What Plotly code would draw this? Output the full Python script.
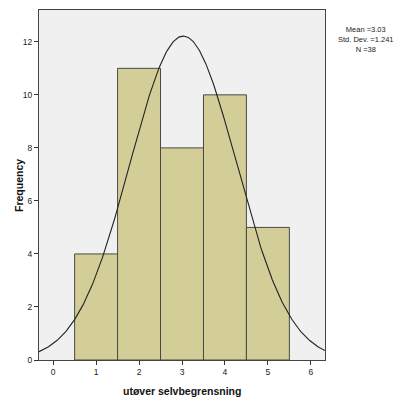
import numpy as np
import plotly.graph_objects as go

# Histogram of responses
categories = [1, 2, 3, 4, 5]
counts = [4, 11, 8, 10, 5]

# Summary statistics shown beside the plot
mean_val = 3.03
std_dev = 1.241
n_obs = 38
bin_width = 1.0

x_ticks = [0, 1, 2, 3, 4, 5, 6]
y_ticks = [0, 2, 4, 6, 8, 10, 12]

# Normal curve scaled to frequency units
xc = np.linspace(-0.33, 6.33, 300)
yc = n_obs * bin_width * np.exp(-0.5 * ((xc - mean_val) / std_dev) ** 2) / (std_dev * np.sqrt(2 * np.pi))

fig = go.Figure()
fig.add_trace(go.Bar(
    x=categories, y=counts, width=bin_width,
    marker=dict(color="#D3CE98", line=dict(color="#4A4A44", width=1)),
    hoverinfo="skip",
))
fig.add_trace(go.Scatter(
    x=xc, y=yc, mode="lines",
    line=dict(color="#222222", width=1.1), hoverinfo="skip",
))

font_family = "Liberation Sans, Arial, sans-serif"

fig.update_layout(
    width=405, height=401,
    margin=dict(l=39, r=80, t=10, b=41),
    paper_bgcolor="white",
    plot_bgcolor="#F0F0F0",
    showlegend=False,
    font=dict(family=font_family, size=8, color="#222222"),
    xaxis=dict(
        range=[-0.33, 6.33], tickvals=x_ticks, ticks="outside", ticklen=4,
        tickwidth=1, tickcolor="#333333", showgrid=False, zeroline=False,
        showline=True, linecolor="#444444", linewidth=1.2, mirror=True,
        tickfont=dict(size=8.5),
    ),
    yaxis=dict(
        range=[0, 13.2], tickvals=y_ticks, ticks="outside", ticklen=4,
        tickwidth=1, tickcolor="#333333", showgrid=False, zeroline=False,
        showline=True, linecolor="#444444", linewidth=1.2, mirror=True,
        tickfont=dict(size=8.5),
    ),
    annotations=[
        dict(text="<b>utøver selvbegrensning</b>", xref="paper", yref="paper",
             x=0.5, y=-0.088, xanchor="center", yanchor="middle",
             showarrow=False, font=dict(size=10.5, color="#111111")),
        dict(text="<b>Frequency</b>", xref="paper", yref="paper",
             x=-0.07, y=0.5, xanchor="center", yanchor="middle", textangle=-90,
             showarrow=False, font=dict(size=10.5, color="#111111")),
        dict(text=f"Mean ={mean_val:.2f}<br>Std. Dev. ={std_dev:.3f}<br>N ={n_obs}",
             xref="paper", yref="paper", x=1.143, y=0.964,
             xanchor="center", yanchor="top", align="center",
             showarrow=False, font=dict(size=7.5, color="#222222")),
    ],
)

fig.write_html("out.html")
